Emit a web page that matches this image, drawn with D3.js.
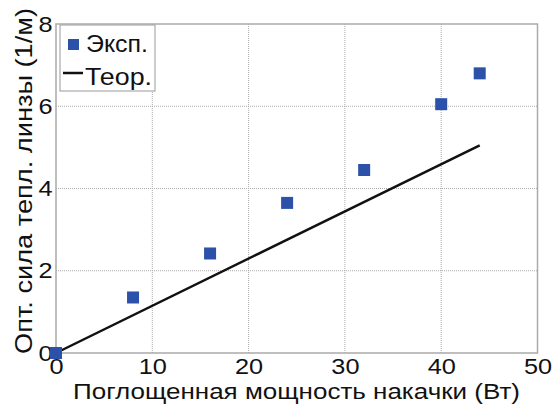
<!DOCTYPE html>
<html>
<head>
<meta charset="utf-8">
<script src="https://cdn.jsdelivr.net/npm/d3@7"></script>
<style>
body { margin: 0; background: #fff; }
text { font-family: "Liberation Sans", Arial, sans-serif; }
</style>
</head>
<body>
<svg width="553" height="405"></svg>
<script>
// data
var expX = [0, 8, 16, 24, 32, 40, 44];
var expY = [0, 1.35, 2.42, 3.65, 4.45, 6.05, 6.8];
var theoX = [0, 44];
var theoY = [0, 5.05];
var xTicks = [0, 10, 20, 30, 40, 50];
var yTicks = [0, 2, 4, 6, 8];

var svg = d3.select("svg"),
    pLeft = 56, pRight = 537.5, pTop = 24, pBottom = 353;

var x = d3.scaleLinear().domain([0, 50]).range([pLeft, pRight]);
var y = d3.scaleLinear().domain([0, 8]).range([pBottom, pTop]);

var g = svg.append("g");

// grid
g.selectAll(".gx").data(xTicks.slice(1, -1)).enter().append("line")
  .attr("x1", function (d) { return x(d); }).attr("x2", function (d) { return x(d); })
  .attr("y1", pTop).attr("y2", pBottom)
  .attr("stroke", "#aaa").attr("stroke-width", 1).attr("stroke-dasharray", "1,1");
g.selectAll(".gy").data(yTicks.slice(1, -1)).enter().append("line")
  .attr("y1", function (d) { return y(d); }).attr("y2", function (d) { return y(d); })
  .attr("x1", pLeft).attr("x2", pRight)
  .attr("stroke", "#aaa").attr("stroke-width", 1).attr("stroke-dasharray", "1,1");

// box
g.append("rect")
  .attr("x", pLeft).attr("y", pTop)
  .attr("width", pRight - pLeft).attr("height", pBottom - pTop)
  .attr("fill", "none").attr("stroke", "#aaa").attr("stroke-width", 1.5);

// axes (labels only)
var xa = g.append("g").attr("transform", "translate(0," + pBottom + ")")
  .call(d3.axisBottom(x).tickValues(xTicks).tickSize(0).tickPadding(5));
xa.select(".domain").remove();
xa.selectAll("text").attr("font-size", 22).attr("fill", "#111")
  .attr("font-family", "'Liberation Sans', Arial, sans-serif")
  .attr("transform", "scale(1.15,1)");

var ya = g.append("g").attr("transform", "translate(" + pLeft + ",0)")
  .call(d3.axisLeft(y).tickValues(yTicks).tickSize(0).tickPadding(3));
ya.select(".domain").remove();
ya.selectAll("text").attr("font-size", 22).attr("fill", "#111")
  .attr("font-family", "'Liberation Sans', Arial, sans-serif")
  .attr("transform", "scale(1.15,1)");

// theory line
var line = d3.line()
  .x(function (d, i) { return x(theoX[i]); })
  .y(function (d, i) { return y(theoY[i]); });
g.append("path").datum(theoX)
  .attr("d", line).attr("fill", "none")
  .attr("stroke", "#111").attr("stroke-width", 2.5);

// experiment squares
var s = 12;
g.selectAll(".pt").data(expX).enter().append("rect")
  .attr("x", function (d) { return x(d) - s / 2; })
  .attr("y", function (d, i) { return y(expY[i]) - s / 2; })
  .attr("width", s).attr("height", s)
  .attr("fill", "#2b52a8");

// axis titles
svg.append("text")
  .attr("x", 73).attr("y", 399)
  .attr("font-size", 22).attr("fill", "#111")
  .attr("textLength", 447).attr("lengthAdjust", "spacingAndGlyphs")
  .text("Поглощенная мощность накачки (Вт)");
svg.append("text")
  .attr("transform", "translate(32,354) rotate(-90)")
  .attr("font-size", 24).attr("fill", "#111")
  .attr("textLength", 346).attr("lengthAdjust", "spacingAndGlyphs")
  .text("Опт. сила тепл. линзы (1/м)");

// legend
var lg = svg.append("g");
lg.append("rect").attr("x", 60).attr("y", 25).attr("width", 95).attr("height", 66)
  .attr("fill", "#fff").attr("stroke", "#aaa").attr("stroke-width", 1.2);
lg.append("rect").attr("x", 68).attr("y", 39).attr("width", 11).attr("height", 11)
  .attr("fill", "#2b52a8");
lg.append("text").attr("x", 86).attr("y", 52).attr("font-size", 23).attr("fill", "#111")
  .attr("textLength", 62).attr("lengthAdjust", "spacingAndGlyphs").text("Эксп.");
lg.append("line").attr("x1", 63).attr("x2", 83).attr("y1", 73).attr("y2", 73)
  .attr("stroke", "#111").attr("stroke-width", 2.5);
lg.append("text").attr("x", 85).attr("y", 85).attr("font-size", 23).attr("fill", "#111")
  .attr("textLength", 67).attr("lengthAdjust", "spacingAndGlyphs").text("Теор.");
</script>
</body>
</html>
